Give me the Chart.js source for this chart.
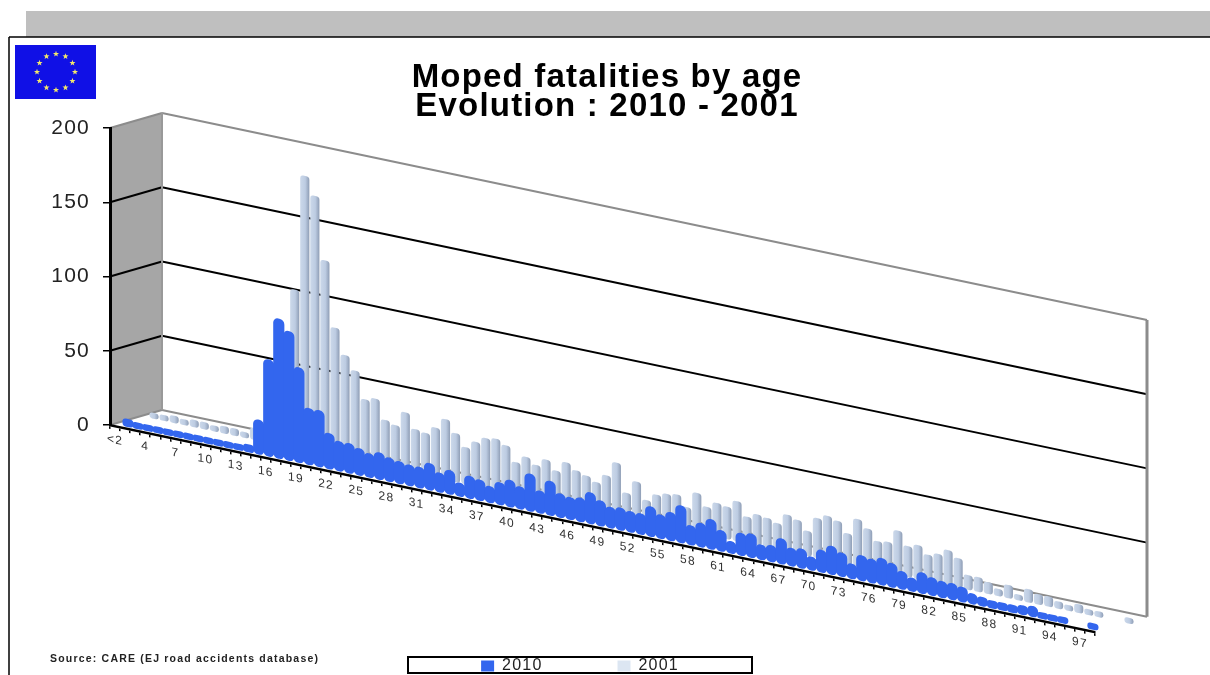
<!DOCTYPE html>
<html>
<head>
<meta charset="utf-8">
<title>Moped fatalities by age</title>
<script src="https://cdn.jsdelivr.net/npm/chart.js@4/dist/chart.umd.min.js"></script>
<style>
  html, body { margin: 0; padding: 0; background: #fff; overflow: hidden; }
  canvas { display: block; }
</style>
</head>
<body>
<canvas id="moped-chart" width="1210" height="675"></canvas>
<script>
const ages = ['<2','2','3','4','5','6','7','8','9','10','11','12','13','14','15','16','17','18','19','20',
  '21','22','23','24','25','26','27','28','29','30','31','32','33','34','35','36','37','38','39','40',
  '41','42','43','44','45','46','47','48','49','50','51','52','53','54','55','56','57','58','59','60',
  '61','62','63','64','65','66','67','68','69','70','71','72','73','74','75','76','77','78','79','80',
  '81','82','83','84','85','86','87','88','89','90','91','92','93','94','95','96','97','98'];

const fatalities2010 = [2,1,1,1,1,1,1,1,1,1,1,1,2,20,62,91,84,61,35,35,
  21,17,17,15,13,15,13,12,11,11,15,10,13,6,12,11,8,12,15,12,
  22,12,20,13,12,13,18,14,11,12,11,11,17,13,16,22,10,13,17,11,
  5,12,13,7,8,14,9,10,6,12,16,13,7,14,13,15,13,9,6,11,
  9,8,8,7,4,3,2,2,2,3,4,1,1,1,null,null,1,null];

const fatalities2001 = [1,1,2,1,2,2,1,2,2,1,5,8,15,45,104,182,170,128,84,67,
  58,40,42,29,27,37,27,26,31,38,30,22,27,31,32,29,19,24,20,25,
  19,26,22,20,17,23,33,14,23,12,17,19,20,13,24,16,20,19,24,15,
  18,17,15,22,20,14,24,27,25,18,29,24,17,18,27,18,20,15,17,21,
  17,7,7,5,2,6,1,6,4,4,2,1,3,1,1,null,null,1];

const yTicks = [0, 50, 100, 150, 200];

const SHEAR = 0.21;
const DEPTH_X = 52;
const DEPTH_Y = -15;
const rowDepth = [0.25, 0.75];

// cylinders sit a little below the floor so a small value still shows as a round blob
function withFoot(values, foot) {
  return values.map(v => (v === null ? null : [foot, v]));
}

// screen position of a flat chart point pushed back by depth (0 front, 1 back wall)
function project(area, x, y, depth) {
  return [x + depth * DEPTH_X, y + SHEAR * (x - area.left) + depth * DEPTH_Y];
}

function line(ctx, a, b, color, width) {
  ctx.beginPath();
  ctx.moveTo(a[0], a[1]);
  ctx.lineTo(b[0], b[1]);
  ctx.strokeStyle = color;
  ctx.lineWidth = width;
  ctx.stroke();
}

function drawFlag(ctx) {
  ctx.fillStyle = '#1010E6';
  ctx.fillRect(15, 45, 81, 54);
  ctx.fillStyle = '#F4E86A';
  for (let i = 0; i < 12; i++) {
    const a = i * Math.PI / 6;
    const cx = 56 + 19 * Math.sin(a);
    const cy = 72 - 18 * Math.cos(a);
    ctx.beginPath();
    for (let p = 0; p < 10; p++) {
      const r = p % 2 ? 1.3 : 3.2;
      const t = p * Math.PI / 5;
      ctx.lineTo(cx + r * Math.sin(t), cy - r * Math.cos(t));
    }
    ctx.closePath();
    ctx.fill();
  }
}

function drawPage(ctx) {
  ctx.fillStyle = '#BFBFBF';
  ctx.fillRect(26, 11, 1184, 26);
  line(ctx, [9, 37], [1210, 37], '#000', 1.5);
  line(ctx, [9, 37], [9, 675], '#000', 1.5);
  drawFlag(ctx);

  ctx.font = 'bold 10.5px "Liberation Sans"';
  ctx.fillStyle = '#222';
  ctx.textAlign = 'left';
  ctx.textBaseline = 'middle';
  ctx.fillText('Source: CARE (EJ road accidents database)', 50, 659);

  ctx.strokeStyle = '#000';
  ctx.lineWidth = 2;
  ctx.strokeRect(408, 657, 344, 16);
}

function drawWalls(chart) {
  const ctx = chart.ctx;
  const area = chart.chartArea;
  const y = chart.scales.y;
  const top = y.getPixelForValue(200);
  const zero = y.getPixelForValue(0);

  const sideA = project(area, area.left, top, 0);
  const sideB = project(area, area.left, top, 1);
  const sideC = project(area, area.left, zero, 1);
  const sideD = project(area, area.left, zero, 0);
  ctx.beginPath();
  ctx.moveTo(sideA[0], sideA[1]);
  ctx.lineTo(sideB[0], sideB[1]);
  ctx.lineTo(sideC[0], sideC[1]);
  ctx.lineTo(sideD[0], sideD[1]);
  ctx.closePath();
  ctx.fillStyle = '#A6A6A6';
  ctx.fill();

  yTicks.forEach(v => {
    const py = y.getPixelForValue(v);
    const color = v === 0 || v === 200 ? '#8C8C8C' : '#000';
    const front = project(area, area.left, py, 0);
    const backL = project(area, area.left, py, 1);
    const backR = project(area, area.right, py, 1);
    line(ctx, front, backL, color, 2);
    line(ctx, backL, backR, color, 2);
  });

  line(ctx, sideB, sideC, '#999', 2);
  line(ctx, project(area, area.right, top, 1), project(area, area.right, zero, 1), '#8C8C8C', 3);
}

// shears the whole plot so the category axis runs downhill like the 3D original
const shearPlugin = {
  id: 'shear',
  beforeLayout(chart) {
    chart.ctx.letterSpacing = '1.2px';
  },
  afterLayout(chart) {
    chart.legend.left = 0;
    chart.legend.right = 1160;
    chart.legend.top = 658 - chart.options.plugins.legend.labels.padding;
    chart.titleBlock.left = 0;
    chart.titleBlock.right = 1214;
  },
  beforeDraw(chart) {
    const ctx = chart.ctx;
    ctx.letterSpacing = '1.2px';
    ctx.save();
    drawPage(ctx);
    drawWalls(chart);
    ctx.restore();
  },
  beforeDatasetsDraw(chart) {
    const ctx = chart.ctx;
    ctx.save();
    ctx.transform(1, SHEAR, 0, 1, 0, -SHEAR * chart.chartArea.left);
  },
  beforeDatasetDraw(chart, args) {
    const d = rowDepth[args.index];
    const ctx = chart.ctx;
    ctx.save();
    ctx.translate(d * DEPTH_X, d * DEPTH_Y - SHEAR * d * DEPTH_X);
  },
  afterDatasetDraw(chart) {
    chart.ctx.restore();
  },
  afterDraw(chart) {
    chart.ctx.restore();
  }
};

function cylinderFill(context) {
  if (context.type !== 'data') return '#BDCCE2';
  const chart = context.chart;
  const x = chart.scales.x.getPixelForValue(context.dataIndex);
  if (!Number.isFinite(x)) return '#BDCCE2';
  const g = chart.ctx.createLinearGradient(x - 4.5, 0, x + 4.5, 0);
  g.addColorStop(0, '#CBD8EA');
  g.addColorStop(0.55, '#BDCCE2');
  g.addColorStop(1, '#8F9EB6');
  return g;
}

new Chart(document.getElementById('moped-chart'), {
  type: 'bar',
  data: {
    labels: ages,
    datasets: [{
      label: '2010',
      data: withFoot(fatalities2010, -3),
      backgroundColor: '#3366EE',
      barThickness: 10.5,
      borderRadius: 5,
      borderSkipped: false,
      clip: false
    }, {
      label: '2001',
      data: withFoot(fatalities2001, -2.5),
      backgroundColor: cylinderFill,
      barThickness: 8.5,
      borderRadius: 3,
      borderSkipped: false,
      clip: false
    }]
  },
  plugins: [shearPlugin],
  options: {
    responsive: false,
    animation: false,
    grouped: false,
    layout: { padding: { right: 115 } },
    plugins: {
      tooltip: { enabled: false },
      title: {
        display: true,
        text: ['Moped fatalities by age', 'Evolution : 2010 - 2001'],
        color: '#000',
        font: { family: '"Liberation Sans"', size: 33, weight: 'bold', lineHeight: 0.88 },
        padding: { top: 63.5, bottom: 6.5 }
      },
      legend: {
        position: 'bottom',
        maxHeight: 20,
        labels: {
          color: '#222',
          boxWidth: 13,
          boxHeight: 11,
          padding: 75,
          font: { family: '"Liberation Sans"', size: 16 },
          generateLabels(chart) {
            const items = Chart.defaults.plugins.legend.labels.generateLabels(chart);
            items[1].fillStyle = '#DCE6F2';
            return items;
          }
        }
      }
    },
    scales: {
      x: {
        afterFit(scale) { scale.height = 230; },
        grid: { drawOnChartArea: false, color: '#000', lineWidth: 1.5, tickLength: 4, z: 1 },
        border: { color: '#000', width: 2.5, z: 1 },
        ticks: {
          z: 1,
          autoSkip: false,
          minRotation: 0,
          maxRotation: 0,
          padding: 3,
          color: '#333',
          font: { family: '"Liberation Sans"', size: 12 },
          callback(value, index) {
            return index % 3 === 0 ? this.getLabelForValue(value) : '';
          }
        }
      },
      y: {
        min: 0,
        max: 200,
        afterFit(scale) { scale.width = 110; },
        afterBuildTicks(scale) { scale.ticks = yTicks.map(v => ({ value: v })); },
        grid: { drawOnChartArea: false, color: '#000', lineWidth: 1.5, tickLength: 7 },
        border: { color: '#000', width: 3 },
        ticks: {
          padding: 13,
          color: '#222',
          font: { family: '"Liberation Sans"', size: 21 }
        }
      }
    }
  }
});
</script>
</body>
</html>
